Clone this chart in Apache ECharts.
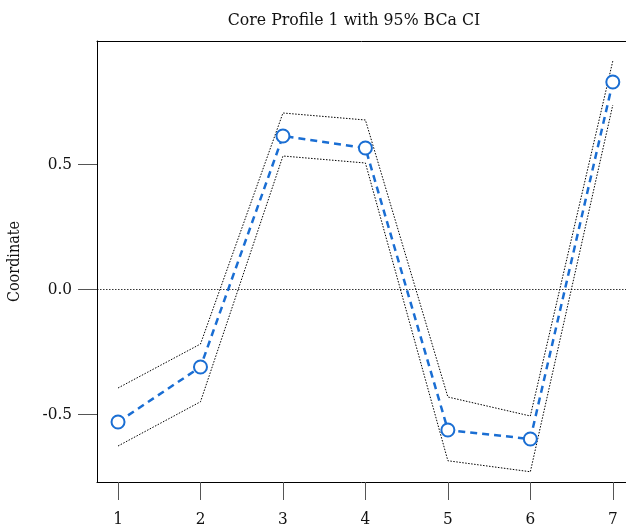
<!DOCTYPE html>
<html>
<head>
<meta charset="utf-8">
<script src="https://cdn.jsdelivr.net/npm/echarts@6/dist/echarts.min.js"></script>
<style>
html,body{margin:0;padding:0;background:#fff;}
#chart{width:626px;height:532px;}
</style>
</head>
<body>
<div id="chart"></div>
<script>
// data
var positions = [1, 2, 3, 4, 5, 6, 7];
var coordinate = [-0.53, -0.31, 0.614, 0.566, -0.562, -0.598, 0.83];
var upperCI = [-0.394, -0.218, 0.706, 0.678, -0.43, -0.506, 0.914];
var lowerCI = [-0.626, -0.449, 0.534, 0.506, -0.685, -0.729, 0.738];
var yTicks = [-0.5, 0, 0.5];

function pairs(vals){
    return positions.map(function(p, i){ return [p, vals[i]]; });
}

var font = '"DejaVu Serif Condensed", "DejaVu Serif", serif';
var chart = echarts.init(document.getElementById('chart'));
chart.setOption({
    animation: false,
    backgroundColor: '#fff',
    title: {
        text: 'Core Profile 1 with 95% BCa CI',
        left: 349, top: 6, textAlign: 'center',
        textStyle: {fontFamily: font, fontSize: 17.5, fontWeight: 'normal', color: '#111'}
    },
    grid: {left: 97, top: 41, right: 0, bottom: 50, outerBoundsMode: 'none', containLabel: false},
    xAxis: [{
        type: 'value', min: 0.745, max: 7.16,
        axisLine: {show: true, onZero: false, lineStyle: {color: '#000', width: 1}},
        axisTick: {show: true, length: 18, customValues: positions, lineStyle: {color: '#555'}},
        axisLabel: {customValues: positions, margin: 29, fontFamily: font, fontSize: 17, color: '#111'},
        splitLine: {show: false}
    }, {
        type: 'value', position: 'top', min: 0.745, max: 7.16,
        axisLine: {show: true, onZero: false, lineStyle: {color: '#000', width: 1}},
        axisTick: {show: false}, axisLabel: {show: false}, splitLine: {show: false}
    }],
    yAxis: {
        type: 'value', min: -0.77, max: 0.994,
        name: 'Coordinate', nameLocation: 'middle', nameGap: 74,
        nameTextStyle: {fontFamily: font, fontSize: 16, color: '#111'},
        axisLine: {show: true, onZero: false, lineStyle: {color: '#000', width: 1}},
        axisTick: {show: true, length: 19, customValues: yTicks, lineStyle: {color: '#555'}},
        axisLabel: {
            customValues: yTicks, margin: 25, fontFamily: font, fontSize: 17, color: '#111',
            formatter: function(v){ return v.toFixed(1); }
        },
        splitLine: {show: false}
    },
    series: [{
        name: 'upper', type: 'line', data: pairs(upperCI), symbol: 'none',
        lineStyle: {color: '#000', width: 1, type: [1.5, 1.5]},
        markLine: {
            silent: true, symbol: 'none', label: {show: false},
            lineStyle: {color: '#000', width: 0.8, type: [1.5, 1.5]},
            data: [{yAxis: 0}]
        }
    }, {
        name: 'lower', type: 'line', data: pairs(lowerCI), symbol: 'none',
        lineStyle: {color: '#000', width: 1, type: [1.5, 1.5]}
    }, {
        name: 'Coordinate', type: 'line', data: pairs(coordinate),
        symbol: 'emptyCircle', symbolSize: 13,
        itemStyle: {color: '#1a6ed3', borderWidth: 2},
        lineStyle: {color: '#1a6ed3', width: 2.5, type: [7, 5]},
        z: 5
    }]
});
</script>
</body>
</html>
